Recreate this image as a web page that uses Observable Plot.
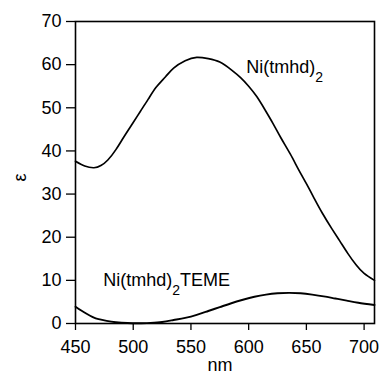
<!DOCTYPE html>
<html>
<head>
<meta charset="utf-8">
<script src="https://cdn.jsdelivr.net/npm/d3@7"></script>
<script src="https://cdn.jsdelivr.net/npm/@observablehq/plot@0.6"></script>
<style>
  html, body { margin: 0; padding: 0; background: #fff; }
  svg { display: block; }
</style>
</head>
<body>
<div id="chart"></div>
<script>
// Ni(tmhd)2 spectrum
const nm1 = [450, 458, 466, 472, 478, 485, 492, 500, 506, 513, 520, 528, 535, 545, 555, 565, 575, 585, 593, 600, 607, 614, 621, 628, 636, 643, 650, 657, 664, 672, 679, 686, 693, 700, 709];
const eps1 = [37.6, 36.5, 36.1, 36.6, 37.9, 40.3, 43.3, 46.6, 49.1, 52.0, 54.8, 57.2, 59.2, 60.9, 61.7, 61.4, 60.6, 58.8, 57.0, 55.0, 52.6, 49.6, 46.4, 43.0, 39.3, 35.8, 32.4, 28.9, 25.5, 22.0, 19.1, 16.2, 13.6, 11.6, 10.0];
// Ni(tmhd)2TEME spectrum
const nm2 = [450, 455, 460, 465, 470, 477, 485, 495, 505, 515, 525, 535, 545, 555, 565, 575, 585, 595, 605, 615, 625, 635, 645, 655, 665, 675, 685, 695, 709];
const eps2 = [3.9, 3.0, 2.2, 1.5, 1.0, 0.6, 0.3, 0.1, 0.05, 0.15, 0.35, 0.8, 1.3, 2.0, 2.9, 3.8, 4.7, 5.5, 6.2, 6.7, 7.0, 7.1, 7.0, 6.7, 6.3, 5.8, 5.3, 4.8, 4.3];
// series labels ("|" separates the subscript)
const labelNm = [598, 474];
const labelEps = [58, 8.8];
const labelText = ["Ni(tmhd)|2", "Ni(tmhd)|2|TEME"];
// ticks and axis titles
const xTicks = [450, 500, 550, 600, 650, 700];
const yTicks = [0, 10, 20, 30, 40, 50, 60, 70];
const xTitle = "nm";
const yTitle = "ε";

const s1 = nm1.map((x, i) => ({x, y: eps1[i]}));
const s2 = nm2.map((x, i) => ({x, y: eps2[i]}));
const labels = labelNm.map((x, i) => ({x, y: labelEps[i], t: labelText[i]}));

function subscriptRender(index, scales, values, dims, ctx, next) {
  const g = next(index, scales, values, dims, ctx);
  for (const t of g.querySelectorAll("text")) {
    const parts = t.textContent.split("|");
    t.textContent = "";
    parts.forEach((p, i) => {
      const ts = document.createElementNS("http://www.w3.org/2000/svg", "tspan");
      ts.textContent = p;
      if (i === 1) { ts.setAttribute("dy", "9"); ts.setAttribute("font-size", "14px"); }
      if (i === 2) { ts.setAttribute("dy", "-9"); }
      t.appendChild(ts);
    });
  }
  return g;
}

const font = "'Liberation Sans', Arial, Helvetica, sans-serif";

const chart = Plot.plot({
  width: 380,
  height: 373,
  marginLeft: 75,
  marginRight: 6,
  marginTop: 21,
  marginBottom: 50,
  style: {fontFamily: font, fontSize: "18px", color: "#000", background: "#fff"},
  x: {domain: [450, 709]},
  y: {domain: [0, 70]},
  marks: [
    Plot.axisX({ticks: xTicks, tickSize: 7, tickPadding: 10, fontSize: 18, strokeWidth: 1.3, label: null}),
    Plot.axisY({ticks: yTicks, tickSize: 9, tickPadding: 5, fontSize: 18, strokeWidth: 1.3, label: null}),
    Plot.line(s1, {x: "x", y: "y", curve: "natural", stroke: "#000", strokeWidth: 1.7}),
    Plot.line(s2, {x: "x", y: "y", curve: "natural", stroke: "#000", strokeWidth: 1.9}),
    Plot.text(labels, {x: "x", y: "y", text: "t", textAnchor: "start", lineAnchor: "bottom", fontSize: 18, fill: "#000", render: subscriptRender}),
    Plot.text([xTitle], {frameAnchor: "bottom", lineAnchor: "bottom", dx: -5, dy: 47, fontSize: 18, fill: "#000"}),
    Plot.text([yTitle], {frameAnchor: "left", textAnchor: "middle", rotate: -90, dx: -55, dy: 5, fontSize: 18, fill: "#000"}),
    Plot.frame({stroke: "#000", strokeWidth: 1.6})
  ]
});
document.getElementById("chart").appendChild(chart);
</script>
</body>
</html>
